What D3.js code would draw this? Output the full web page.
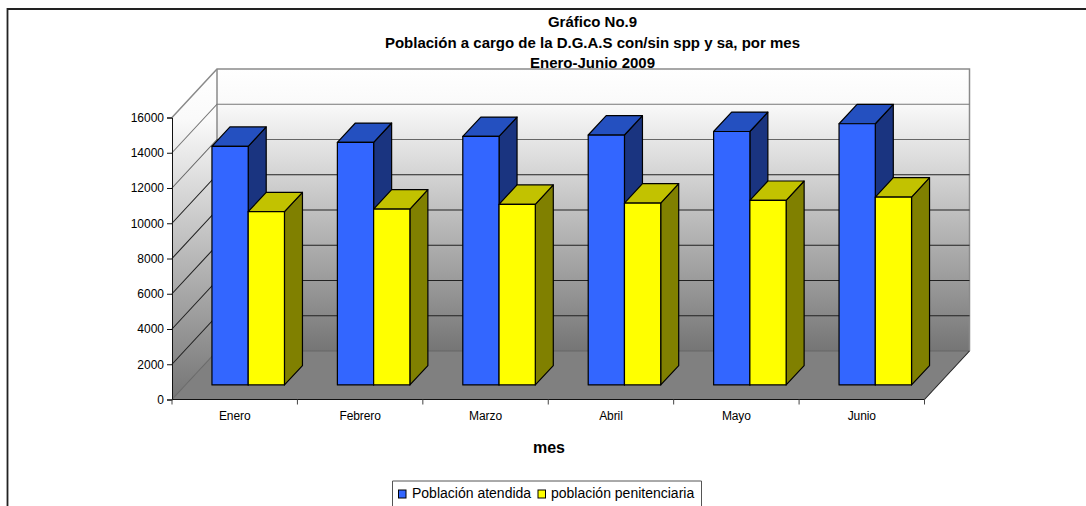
<!DOCTYPE html>
<html><head><meta charset="utf-8">
<script src="https://cdn.jsdelivr.net/npm/d3@7/dist/d3.min.js"></script>
<style>html,body{margin:0;padding:0;background:#fff}svg{display:block}text{font-family:"Liberation Sans",Arial,sans-serif;fill:#000}</style>
</head><body><svg id="c" width="1086" height="506"></svg>
<script>
const categories=["Enero","Febrero","Marzo","Abril","Mayo","Junio"];
const atendida=[13540,13760,14100,14180,14380,14820];
const penitenciaria=[9830,9980,10250,10320,10470,10660];
const seriesNames=["Población atendida","población penitenciaria"];
const yTicks=[0,2000,4000,6000,8000,10000,12000,14000,16000];
const titleLines=["Gráfico No.9","Población a cargo de la D.G.A.S con/sin spp y sa, por mes","Enero-Junio 2009"];

const svg=d3.select("#c");
const x=d3.scaleBand().domain(categories).range([172,924.5]);
const y=d3.scaleLinear().domain([0,16000]).range([399.5,117.5]);
const dx=45,dy=-48.5;
const sub=d3.scaleBand().domain([0,1]).range([0,72.5]);
const line=d3.line();
const defs=svg.append("defs");
const grad=(id,a,b,stops)=>{const g=defs.append("linearGradient").attr("id",id).attr("gradientUnits","userSpaceOnUse").attr("x1",0).attr("x2",0).attr("y1",a).attr("y2",b);
  stops.forEach(([o,c])=>g.append("stop").attr("offset",o).attr("stop-color",c));};
grad("w",y(16000)+dy,y(0)+dy,[[0,"#ffffff"],[0.12,"#fafafa"],[1,"#757575"]]);
grad("s",y(16000)+dy,y(0),[[0,"#ffffff"],[0.15,"#fafafa"],[1,"#757575"]]);

// frame
svg.append("path").attr("d",line([[7.5,506],[7.5,9],[1086,9]])).attr("fill","none").attr("stroke","#222").attr("stroke-width",1.8);

const xL=x.range()[0],xR=x.range()[1],yB=y(0),yT=y(16000);
// back wall
svg.append("path").attr("d",line([[xL+dx,yT+dy],[xR+dx,yT+dy],[xR+dx,yB+dy],[xL+dx,yB+dy]])+"Z").attr("fill","url(#w)");
// side wall
svg.append("path").attr("d",line([[xL,yT],[xL+dx,yT+dy],[xL+dx,yB+dy],[xL,yB]])+"Z").attr("fill","url(#s)");
// floor
svg.append("path").attr("d",line([[xL,yB],[xL+dx,yB+dy],[xR+dx,yB+dy],[xR,yB]])+"Z").attr("fill","#808080");
// wall outlines
svg.append("path").attr("d",line([[xL,yT],[xL+dx,yT+dy],[xR+dx,yT+dy],[xR+dx,yB+dy]])).attr("fill","none").attr("stroke","#8a8a8a").attr("stroke-width",1.5);
svg.append("path").attr("d",line([[xL+dx,yT+dy],[xL+dx,yB+dy]])).attr("fill","none").attr("stroke","#8a8a8a").attr("stroke-width",1.5);
// gridlines
yTicks.forEach(t=>{
  const p=y(t);
  if(t<16000){
    svg.append("path").attr("d",line([[xL,p],[xL+dx,p+dy],[xR+dx,p+dy]])).attr("fill","none").attr("stroke",t===14000?"#777":(t===12000?"#666":(t===0?"#666":"#222"))).attr("stroke-width",1.1);
  }
});
svg.append("path").attr("d",line([[xR,yB],[xR+dx,yB+dy]])).attr("fill","none").attr("stroke","#222").attr("stroke-width",1.1);

// bars
const barD=[dx*0.4,dy*0.4],off=[dx*0.3,dy*0.3];
const series=[{v:atendida,f:"#3366ff",t:"#2450c0",s:"#1a3480"},{v:penitenciaria,f:"#ffff00",t:"#c2c200",s:"#808000"}];
const gx=c=>x(c)+x.bandwidth()/2-36.25+off[0];
const yBar=v=>y(v)+off[1];
const base=yBar(0);
categories.forEach((c,i)=>{
  series.forEach((s,k)=>{
    const x0=gx(c)+sub(k),w=sub.bandwidth(),top=yBar(s.v[i]);
    const g=svg.append("g").attr("stroke","#000").attr("stroke-width",1.2).attr("stroke-linejoin","round");
    g.append("path").attr("d",line([[x0+w,top],[x0+w+barD[0],top+barD[1]],[x0+w+barD[0],base+barD[1]],[x0+w,base]])+"Z").attr("fill",s.s);
    g.append("path").attr("d",line([[x0,top],[x0+barD[0],top+barD[1]],[x0+w+barD[0],top+barD[1]],[x0+w,top]])+"Z").attr("fill",s.t);
    g.append("rect").attr("x",x0).attr("y",top).attr("width",w).attr("height",base-top).attr("fill",s.f);
  });
});

// axes
const ax=svg.append("g").attr("transform",`translate(${xL},0)`).call(d3.axisLeft(y).tickValues(yTicks).tickFormat(d3.format("d")).tickSize(5).tickPadding(3));
ax.selectAll("text").attr("font-size",12).attr("font-family",'"Liberation Sans",Arial,sans-serif').attr("fill","#111");
ax.selectAll("path,line").attr("stroke","#111");
const bx=svg.append("g").attr("transform",`translate(0,${yB})`);
bx.append("path").attr("d",line([[xL,0],[xR,0]])).attr("stroke","#111").attr("stroke-width",1.2);
categories.concat(["_end"]).forEach((c,i)=>{
  const px=i<categories.length?x(c):xR;
  bx.append("path").attr("d",line([[px,0],[px,5]])).attr("stroke","#444");
});
categories.forEach(c=>{
  bx.append("text").attr("x",x(c)+x.bandwidth()/2).attr("y",20.5).attr("text-anchor","middle").attr("font-size",12).attr("letter-spacing",-0.1).attr("fill","#222").text(c);
});

// titles
const ty=[27,48,68];
titleLines.forEach((t,i)=>svg.append("text").attr("x",592.5).attr("y",ty[i]).attr("text-anchor","middle").attr("font-size",15).attr("font-weight","bold").text(t));
svg.append("text").attr("x",549).attr("y",452.5).attr("text-anchor","middle").attr("font-size",16).attr("font-weight","bold").text("mes");

// legend
svg.append("path").attr("d",line([[392.5,506],[392.5,481],[701.5,481],[701.5,506]])).attr("fill","none").attr("stroke","#555").attr("stroke-width",1);
const lg=[[398.5,412,seriesNames[0],series[0].f],[538,551,seriesNames[1],series[1].f]];
lg.forEach(([a,b,t,f])=>{
  svg.append("rect").attr("x",a).attr("y",490).attr("width",7.5).attr("height",8).attr("fill",f).attr("stroke","#000").attr("stroke-width",1);
  svg.append("text").attr("x",b).attr("y",498).attr("font-size",14).attr("fill","#222").text(t);
});
</script></body></html>
